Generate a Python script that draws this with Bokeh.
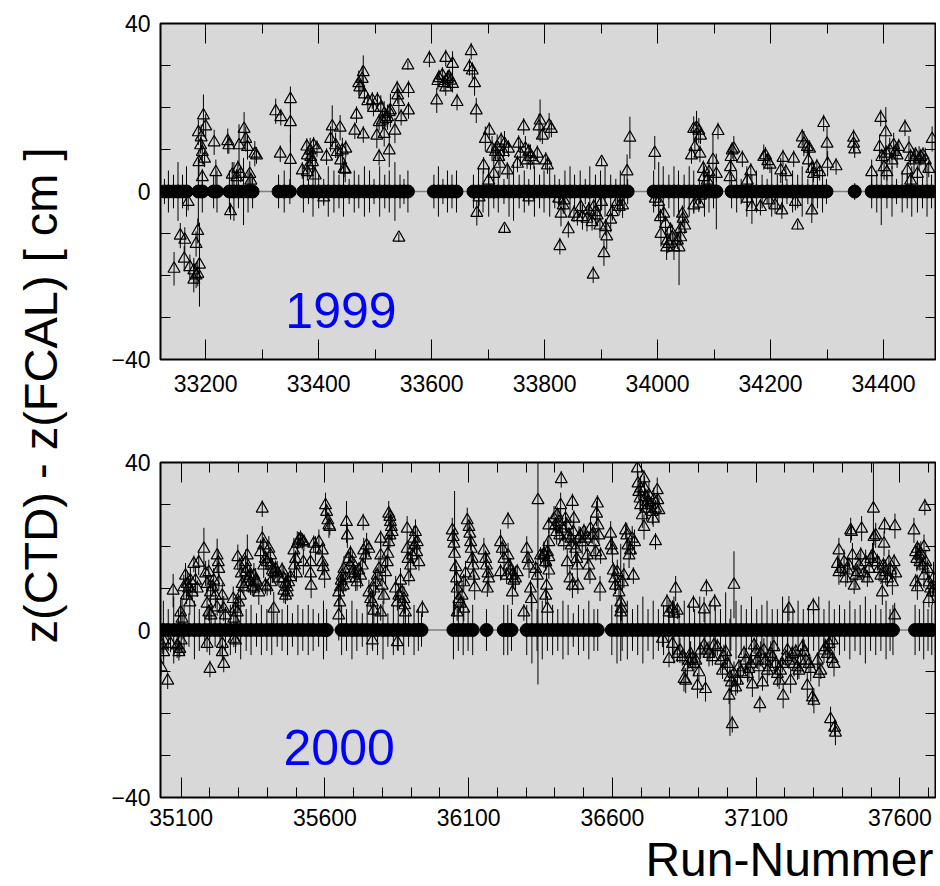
import math
from bokeh.plotting import figure
from bokeh.layouts import row, column
from bokeh.models import Range1d, LinearAxis, SingleIntervalTicker, FixedTicker, Label
from bokeh.embed import file_html
from bokeh.resources import INLINE

# ---------------- data: 1999 ----------------
# runs at z = 0 (filled circles) and their errors
c99_run = [
    33127, 33134, 33143, 33151, 33159, 33166, 33187, 33194, 33214, 33220,
    33242, 33250, 33258, 33267, 33275, 33283, 33329, 33339, 33349,
    33373, 33382, 33390, 33400, 33409, 33417, 33427, 33436, 33444, 33454, 33463,
    33471, 33481, 33490, 33498, 33508, 33517, 33525, 33535, 33544, 33551, 33558,
    33604, 33612, 33620, 33628, 33636, 33644,
    33674, 33683, 33691, 33701, 33710, 33718, 33728, 33737, 33745, 33755,
    33764, 33772, 33782, 33791, 33799, 33809, 33818, 33826, 33836, 33845,
    33853, 33863, 33872, 33880, 33890, 33899, 33907, 33917, 33926, 33934, 33941, 33947,
    33993, 34002, 34010, 34020, 34029, 34037, 34047, 34056, 34064, 34074, 34083, 34091, 34099, 34104,
    34131, 34140, 34148, 34158, 34167, 34175, 34185, 34194, 34202, 34212,
    34221, 34229, 34239, 34248, 34256, 34266, 34275, 34283, 34292, 34299,
    34349,
    34379, 34388, 34396, 34406, 34415, 34423, 34433, 34442, 34450, 34460, 34469, 34477, 34485,
]
c99_err = [
    3, 5, 4, 7, 4, 6, 8, 5, 4, 5,
    5, 7, 4, 8, 5, 4, 4, 5, 3,
    5, 3, 6, 4, 3, 6, 5, 4, 6, 3, 5,
    4, 6, 5, 3, 6, 4, 5, 7, 4, 3, 5,
    4, 6, 3, 5, 4, 5,
    4, 6, 5, 6, 4, 5, 3, 6, 7, 4,
    5, 3, 6, 4, 5, 6, 4, 3, 5, 6,
    4, 5, 3, 6, 4, 5, 6, 4, 3, 5, 4, 3,
    5, 7, 6, 4, 6, 5, 4, 6, 5, 3, 6, 5, 4, 9,
    4, 5, 3, 6, 4, 5, 4, 3, 6, 4,
    5, 3, 5, 4, 6, 3, 5, 4, 5, 3,
    2,
    4, 5, 8, 4, 6, 3, 5, 4, 6, 5, 4, 6, 4,
]
# runs with a deviation (open triangles)
t99_run = [
    33187, 33196, 33200, 33192, 33191, 33194, 33198, 33188, 33194, 33215, 33218,
    33239, 33241, 33247, 33257, 33259, 33268, 33271, 33274, 33278, 33280, 33287, 33290, 33262, 33255,
    33324, 33333, 33332, 33350, 33350, 33350, 33371, 33380,
    33379, 33385, 33386, 33389, 33391, 33397, 33394, 33383, 33380, 33414,
    33421, 33424, 33430, 33433, 33438, 33442, 33448, 33439, 33445, 33447,
    33464, 33467, 33471, 33473, 33479, 33477, 33481, 33487, 33479,
    33495, 33497, 33504, 33510, 33503, 33507, 33513, 33516, 33519, 33522, 33525, 33516, 33527, 33535, 33525, 33507,
    33539, 33540, 33542, 33546, 33559, 33559, 33558,
    33596, 33609, 33611, 33613, 33619, 33622, 33625, 33628, 33631, 33634, 33637, 33645, 33625, 33637,
    33670, 33667, 33672, 33676, 33679, 33692, 33695, 33702,
    33707, 33713, 33716, 33719, 33721, 33723, 33727, 33729, 33734, 33736, 33701, 33710,
    33754, 33757, 33763, 33766, 33769, 33772, 33775, 33781, 33787, 33790, 33792, 33796, 33802, 33808, 33752, 33812, 33805,
    33901, 33951, 33946, 33995, 34064, 34069, 34073, 34076, 34066, 34060, 34075, 34081, 34082, 34088, 34091, 34098, 34104, 34107,
    34128, 34130, 34132, 34129, 34135, 34150, 34165, 34159, 34188, 34191, 34195, 34199,
    34218, 34222, 34227, 34241, 34256, 34259, 34265, 34267, 34269, 34273, 34276, 34282, 34287, 34294, 34300, 34301, 34316,
    34347, 34347, 34349, 34379, 34395, 34404, 34393, 34397, 34401, 34405, 34406, 34411, 34415, 34418, 34421, 34424, 34427, 34438,
    34445, 34448, 34454, 34457, 34460, 34463, 34466, 34470, 34474, 34480, 34486, 34442, 34448,
    33169, 33155, 33163, 33186, 33183, 33162, 33144, 33172, 33189, 33179, 33183, 33179, 33186, 33244, 33409, 33542, 33680, 33684, 33729, 33772,
    33825, 33829, 33827, 33833, 33834, 33842, 33852, 33858, 33864, 33867,
    33875, 33878, 33884, 33887, 33890, 33893, 33898, 33901, 33908, 33910,
    33905, 33886, 33917, 33920, 33929, 33932, 33938,
    34005, 34006, 34011, 34014, 34016, 34017, 34020, 34023, 34026, 34029,
    34035, 34038, 34041, 34044, 34045, 34048, 34041, 33996, 34002, 34064, 34073, 34076,
    34159, 34167, 34182, 34197, 34208, 34220, 34244, 34248, 34273,
]
t99_z = [
    14.1, 18.1, 15.5, 12.9, 11.0, 9.4, 7.8, 7.0, 3.4, 11.7, 4.6,
    12.0, 11.0, 4.0, 5.4, 11.0, 14.9, 12.5, 10.6, 4.2, 2.6, 9.0, 8.6, 4.2, 3.4,
    19.1, 17.7, 9.0, 22.0, 16.5, 7.5, 5.0, 4.6,
    10.7, 9.8, 8.2, 7.0, 11.0, 10.2, 3.8, 6.2, 8.6, 8.3,
    12.5, 15.5, 11.0, 9.4, 15.2, 9.8, 10.2, 7.4, 5.4, 5.2,
    14.5, 18.3, 25.8, 24.8, 28.4, 26.8, 23.1, 21.5, 13.6,
    21.7, 19.9, 21.7, 19.9, 13.3, 16.5, 16.9, 18.5, 17.3, 17.7, 18.9, 13.7, 19.3, 14.5, 9.8, 8.2,
    24.4, 22.9, 21.3, 17.7, 24.4, 19.3, 30.0,
    31.6, 21.7, 26.3, 27.0, 27.6, 25.8, 31.8, 26.8, 27.2, 26.4, 30.4, 21.3, 24.8, 25.6,
    33.4, 29.6, 28.8, 25.8, 19.3, 6.2, 12.5, 14.5,
    10.2, 9.4, 10.6, 8.2, 6.6, 12.1, 9.4, 11.4, 5.0, 10.2, 2.6, 4.2,
    11.4, 9.0, 15.5, 10.2, 7.4, 9.4, 8.2, 7.4, 9.0, 15.5, 16.9, 13.3, 7.4, 15.7, 6.6, 14.9, 6.2,
    7.0, 12.8, 4.8, 9.2, 14.9, 15.2, 14.5, 13.3, 10.6, 8.6, 9.0, 5.4, 3.4, 2.6, 4.6, 7.5, 4.2, 14.4,
    3.4, 8.2, 9.8, 5.8, 10.2, 7.8, 4.8, 2.6, 8.2, 8.6, 7.2, 6.4,
    5.0, 8.0, 4.6, 7.8, 12.9, 11.4, 10.6, 7.4, 10.2, 5.4, 4.2, 5.8, 4.6, 16.3, 11.4, 6.6, 6.0,
    12.8, 11.4, 10.0, 4.6, 17.5, 14.1, 10.6, 8.2, 5.8, 9.0, 4.6, 9.8, 7.4, 11.0, 9.4, 8.6, 10.6, 15.2,
    10.2, 8.2, 7.4, 8.6, 4.2, 7.8, 8.2, 8.6, 7.4, 5.4, 12.5, 5.0, 2.6,
    -2.5, -10.5, -11.5, -9.4, -12.5, -16.0, -18.4, -18.0, -17.4, -18.8, -20.0, -21.0, -19.6, -4.7, -1.4, -11.0, -5.1, -1.4, -8.9, -1.4,
    -1.7, -5.3, -13.0, -3.3, -2.1, -9.0, -5.3, -6.1, -3.7, -6.1,
    -6.5, -4.5, -7.3, -3.7, -4.9, -5.7, -8.1, -2.5, -8.5, -10.7,
    -14.7, -19.8, -6.7, -4.9, -2.5, -3.7, -3.3,
    -6.1, -10.1, -5.3, -7.7, -13.3, -11.7, -12.5, -9.3, -10.9, -13.3,
    -11.7, -13.3, -10.9, -5.3, -6.5, -8.1, -8.9, -1.7, -2.5, -3.3, -2.9, -1.0,
    -1.7, -3.7, -3.7, -2.1, -3.3, -4.5, -2.5, -8.1, -4.5,
]
t99_err = [
    3, 5, 3, 3, 2, 3, 2, 3, 2, 3, 3,
    3, 2, 3, 2, 5, 4, 3, 3, 3, 2, 3, 2, 2, 2,
    3, 2, 2, 3, 5, 6, 2, 2,
    2, 3, 2, 3, 2, 2, 4, 3, 2, 2,
    3, 5, 3, 2, 3, 3, 2, 3, 2, 3,
    2, 2, 3, 2, 4, 3, 2, 2, 2,
    2, 2, 2, 3, 3, 2, 2, 3, 2, 3, 2, 3, 4, 3, 4, 2,
    2, 2, 3, 2, 2, 2, 1,
    2, 3, 2, 2, 2, 2, 2, 2, 2, 2, 3, 2, 2, 2,
    2, 2, 2, 3, 3, 2, 3, 2,
    3, 2, 3, 2, 3, 2, 2, 3, 2, 2, 3, 6,
    2, 3, 2, 3, 2, 2, 3, 2, 2, 3, 5, 2, 2, 3, 2, 2, 2,
    1, 5, 4, 4, 3, 4, 3, 2, 2, 2, 2, 2, 2, 2, 3, 6, 2, 2,
    2, 3, 2, 2, 3, 2, 2, 2, 3, 2, 2, 2,
    3, 2, 2, 2, 2, 3, 2, 3, 2, 2, 2, 2, 2, 2, 4, 3, 2,
    2, 2, 2, 3, 2, 6, 3, 2, 3, 2, 2, 3, 2, 3, 2, 3, 2, 2,
    3, 2, 3, 2, 2, 3, 2, 2, 3, 2, 3, 2, 2,
    2, 3, 3, 3, 3, 3, 4, 3, 10, 3, 3, 3, 3, 2, 2, 1, 3, 2, 1, 2,
    2, 3, 2, 2, 2, 2, 2, 2, 2, 3,
    3, 2, 2, 2, 3, 2, 3, 2, 2, 3,
    3, 2, 3, 2, 2, 2, 3,
    2, 3, 2, 2, 3, 3, 2, 2, 3, 3,
    2, 9, 2, 2, 2, 2, 2, 2, 2, 2, 2, 2,
    2, 4, 2, 2, 2, 2, 2, 1, 3,
]

# ---------------- data: 2000 ----------------
c00_run = [
    35038, 35055, 35074, 35091, 35110, 35127, 35146, 35163, 35182, 35199,
    35218, 35235, 35254, 35271, 35290, 35307, 35326, 35343, 35362, 35379,
    35398, 35415, 35434, 35451, 35470, 35487, 35506, 35523, 35542, 35559,
    35578, 35595, 35606,
    35658, 35675, 35694, 35711, 35730, 35747, 35766, 35783, 35802, 35819,
    35838, 35855, 35874, 35891, 35910, 35925, 35936,
    36047, 36064, 36081, 36098, 36114, 36162, 36222, 36236, 36249,
    36302, 36320, 36338, 36356, 36374, 36392, 36410, 36428, 36446, 36464,
    36482, 36500, 36518, 36536, 36549,
    36598, 36616, 36634, 36652, 36670, 36688, 36706, 36724, 36742, 36760,
    36778, 36796, 36814, 36832, 36850, 36868, 36886, 36904, 36922, 36940,
    36958, 36976, 36994, 37012, 37030, 37048, 37066, 37084, 37102, 37120,
    37138, 37156, 37174, 37192, 37210, 37228, 37246, 37264, 37282, 37300,
    37318, 37336, 37354, 37372, 37390, 37408, 37426, 37444, 37462, 37480,
    37498, 37516, 37534, 37552, 37566, 37576,
    37653, 37668, 37683, 37698, 37711,
]
c00_err = [
    7, 5, 8, 5, 6, 4, 7, 5, 4, 6,
    4, 6, 5, 6, 4, 7, 5, 6, 4, 6,
    5, 6, 4, 5, 6, 4, 6, 5, 6, 5,
    4, 7, 5,
    6, 5, 7, 5, 4, 6, 5, 6, 7, 4,
    6, 5, 6, 4, 6, 5, 4,
    7, 5, 6, 5, 6, 5, 6, 6, 5,
    6, 8, 5, 7, 5, 6, 5, 7, 6, 4,
    6, 5, 7, 5, 5,
    6, 8, 5, 7, 5, 6, 8, 5, 7, 5,
    6, 5, 8, 5, 7, 6, 5, 8, 5, 7,
    6, 5, 9, 5, 7, 6, 5, 8, 5, 6,
    7, 5, 5, 8, 6, 5, 7, 5, 6, 5,
    8, 5, 7, 5, 6, 5, 7, 5, 6, 8,
    5, 6, 5, 7, 5, 6,
    6, 5, 7, 5, 6,
]
t00_run = [
    35072, 35115, 35121, 35126, 35132, 35138, 35144, 35161, 35109, 35118, 35150, 35156, 35130, 35098, 35103,
    35179, 35185, 35190, 35196, 35202, 35208, 35213, 35219, 35225, 35229, 35231, 35231, 35190, 35196, 35204, 35225, 35248, 35254, 35243,
    35281, 35289, 35295, 35300, 35283, 35306, 35297, 35304, 35309, 35312, 35318, 35324,
    35330, 35335, 35341, 35347, 35353, 35359, 35364, 35370, 35324, 35330, 35339, 35353,
    35382, 35382, 35387, 35376, 35393, 35387, 35399, 35405, 35411, 35413,
    35417, 35422, 35428, 35434, 35440, 35411, 35399, 35422, 35393,
    35451, 35457, 35463, 35469, 35474, 35480, 35457, 35463, 35469,
    35492, 35498, 35504, 35509, 35515, 35521, 35527, 35494, 35501, 35525,
    35550, 35550, 35552, 35561, 35567, 35579, 35591, 35591, 35594, 35599, 35602, 35606, 35610, 35614, 35617,
    35648, 35652, 35654, 35657, 35660, 35664, 35666, 35672, 35675, 35678,
    35683, 35687, 35689, 35695, 35699, 35703, 35707, 35712, 35718, 35724,
    35730, 35733, 35735, 35741, 35745, 35753, 35648,
    35753, 35759, 35765, 35770, 35776, 35782, 35788, 35794, 35794, 35799,
    35805, 35811, 35817, 35819, 35822, 35826, 35828, 35831, 35834, 35822, 35826, 35770, 35794,
    35846, 35852, 35857, 35863, 35869, 35875, 35877, 35880, 35886, 35889,
    35892, 35898, 35904, 35909, 35912, 35915, 35919, 35921, 35927, 35886, 35939,
    36043, 36046, 36049, 36051, 36055, 36058, 36060, 36066, 36071, 36077,
    36083, 36089, 36095, 36101, 36104, 36107, 36109, 36113, 36116, 36118, 36121, 36060, 36083,
    36153, 36159, 36162, 36167, 36170, 36165, 36211, 36217, 36223, 36232,
    36237, 36240, 36246, 36252, 36257, 36263, 36269, 36237, 36252, 36211,
    36292, 36302, 36306, 36310, 36315, 36318, 36333, 36339, 36341, 36350, 36362, 36368, 36379, 36379,
    36362, 36368, 36374, 36379, 36371, 36368, 36374, 36379,
    36397, 36402, 36406, 36408, 36414, 36417, 36420, 36422, 36426, 36431,
    36437, 36441, 36443, 36449, 36452, 36455, 36457, 36461, 36464, 36466,
    36472, 36476, 36478, 36480, 36484, 36489, 36495, 36501, 36507, 36513,
    36518, 36522, 36524, 36530, 36536, 36542, 36545, 36548, 36550, 36553,
    36557, 36559, 36461,
    36594, 36596, 36600, 36603, 36608, 36611, 36617, 36623, 36629, 36631,
    36635, 36640, 36646, 36650, 36654, 36658, 36663, 36669, 36673, 36677, 36629,
    36687, 36689, 36692, 36696, 36698, 36704, 36710, 36712, 36716, 36719,
    36710, 36722, 36727, 36733, 36739, 36742, 36744, 36750, 36756, 36758,
    36762, 36750, 36698,
    36790, 36797, 36809, 36814, 36820, 36826, 36882, 36919, 36927, 36956, 37023, 37214, 37299,
    37388, 37383, 37388, 37394, 37406, 37412, 37418, 37423, 37429, 37432,
    37435, 37441, 37447, 37452, 37458, 37464, 37467, 37475, 37481, 37487,
    37493, 37499, 37505, 37508, 37510, 37516, 37522, 37528, 37534, 37539,
    37543, 37545, 37547, 37551, 37557, 37562, 37568, 37574, 37580, 37583,
    37586, 37582,
    37649, 37655, 37659, 37661, 37667, 37670, 37673, 37679, 37684, 37687,
    37690, 37696, 37701, 37707, 37713, 37717, 37655, 37661, 37701, 37684,
    35034, 35039, 35030, 35053, 35086, 35095, 35100, 35092, 35190, 35200,
    35243, 35243, 35248, 35283, 35289, 35765, 35852, 35039, 35063,
    36774, 36797, 36809, 36826, 36835, 36843, 36849, 36855, 36861, 36866,
    36872, 36878, 36884, 36890, 36896, 36901, 36924, 36907, 36919, 36930,
    36936, 36948, 36953, 36965, 36977, 36983, 36988, 36994, 37000, 37006,
    37009, 37014, 37017, 37023, 37029, 37035, 37040, 37046, 37058, 37064,
    37070, 37075, 37081, 37087, 37093, 37099, 37104, 37110, 37113, 37116,
    37122, 37127, 37133, 37139, 37145, 37151, 37157, 37162, 37168, 37174,
    37180, 37185, 37191, 37194, 37203, 37209, 37214, 37220, 37226, 37232,
    37238, 37244, 37249, 37255, 37261, 37267, 37273, 37278, 37284, 37290,
    37296, 37301, 37313, 37319, 37325, 37336, 37342, 37348, 37354, 37359,
    37365, 37371, 37373, 37376, 37365,
]
t00_z = [
    9.4, 13.0, 11.0, 9.9, 11.8, 9.0, 15.8, 16.1, 10.2, 8.2, 11.8, 9.9, 6.6, 4.2, 2.7,
    19.4, 13.5, 11.0, 13.8, 9.0, 10.2, 11.8, 8.2, 17.8, 16.2, 14.6, 11.4, 6.3, 4.2, 3.5, 5.4, 5.1, 3.5, 8.2,
    7.4, 5.1, 4.2, 6.6, 2.7, 8.2, 17.4, 15.4, 13.5, 11.0, 10.2, 16.2,
    14.6, 12.3, 11.4, 10.2, 9.9, 11.8, 11.4, 9.0, 13.8, 17.8, 13.0, 13.0,
    29.0, 21.8, 20.2, 18.6, 17.0, 15.4, 16.2, 19.4, 17.8, 15.4,
    14.2, 13.8, 14.6, 13.5, 12.3, 11.4, 10.2, 5.1, 10.6,
    14.2, 12.3, 11.0, 10.2, 11.4, 12.6, 9.4, 8.2, 9.0,
    19.0, 17.0, 20.6, 21.4, 21.8, 21.2, 20.9, 15.4, 13.5, 16.2,
    16.2, 13.5, 10.6, 20.6, 19.4, 21.0, 19.0, 16.2, 15.0, 13.0, 29.8, 28.2, 26.2, 25.0, 24.6,
    9.0, 6.6, 10.2, 11.8, 13.0, 10.6, 14.6, 12.3, 25.8, 22.6,
    17.0, 15.4, 18.2, 16.2, 14.2, 13.5, 12.3, 11.4, 14.2, 13.0,
    15.4, 25.8, 19.0, 17.8, 20.2, 19.4, 3.5,
    9.0, 7.4, 6.6, 9.9, 11.4, 13.0, 14.6, 17.8, 21.8, 10.6,
    8.2, 13.8, 16.2, 18.2, 27.8, 27.0, 25.8, 24.6, 23.4, 21.0, 22.6, 4.6, 4.2,
    9.9, 6.6, 8.2, 11.8, 9.0, 7.4, 5.9, 4.2, 19.4, 17.0,
    12.6, 15.4, 17.8, 21.8, 20.2, 23.4, 18.6, 21.0, 16.2, 24.2, 5.1,
    23.8, 22.2, 20.6, 18.2, 15.0, 12.3, 9.9, 7.4, 6.3, 8.2,
    11.4, 13.5, 26.2, 24.6, 23.0, 21.0, 19.4, 17.0, 15.4, 13.0, 10.2, 4.2, 5.1,
    19.0, 17.0, 15.4, 13.5, 12.3, 9.9, 21.0, 19.4, 17.0, 13.0,
    17.8, 15.4, 14.2, 13.0, 11.8, 12.3, 13.8, 26.2, 9.0, 13.8,
    4.2, 19.4, 17.0, 15.4, 9.9, 7.4, 14.6, 13.0, 31.0, 17.8, 18.2, 16.2, 21.0, 25.0,
    17.8, 16.2, 18.6, 17.4, 10.6, 8.2, 5.1, 14.2,
    26.6, 25.0, 23.4, 27.4, 25.8, 22.6, 29.8, 36.0, 24.2, 21.0,
    26.6, 25.0, 16.2, 22.6, 12.3, 21.8, 20.2, 30.6, 23.4, 26.6,
    19.4, 17.0, 15.4, 10.6, 21.8, 22.6, 21.0, 23.4, 21.8, 17.8,
    15.4, 13.0, 24.2, 22.6, 21.0, 18.6, 27.8, 30.2, 25.0, 22.6,
    9.9, 17.8, 10.6,
    23.0, 20.2, 19.0, 14.2, 12.3, 10.6, 13.8, 9.0, 6.6, 5.1,
    11.4, 13.0, 23.8, 22.6, 20.2, 17.8, 19.0, 21.8, 13.0, 21.0, 4.2,
    38.6, 35.0, 33.0, 31.4, 29.8, 27.4, 36.2, 33.8, 31.8, 29.0,
    24.6, 30.6, 32.2, 29.8, 28.2, 26.6, 31.0, 29.0, 33.4, 31.0,
    28.6, 21.2, 33.8,
    6.6, 4.2, 5.1, 3.9, 9.9, 4.6, 6.3, 4.9, 10.2, 6.6, 10.8, 5.1, 5.7,
    19.0, 15.8, 13.8, 14.6, 16.2, 12.3, 14.2, 15.4, 23.8, 23.4,
    17.8, 10.6, 13.0, 13.8, 15.4, 17.8, 24.2, 13.5, 16.2, 12.3,
    14.6, 17.0, 17.8, 29.0, 22.2, 22.6, 16.2, 14.6, 13.0, 9.0,
    15.4, 20.6, 25.0, 13.8, 12.3, 16.2, 14.2, 11.4, 16.2, 24.8,
    13.5, 3.5,
    23.8, 18.6, 17.0, 19.4, 17.8, 16.2, 18.2, 15.4, 19.8, 29.4,
    16.2, 14.6, 11.4, 9.9, 9.0, 12.3, 11.4, 10.2, 7.4, 13.0,
    -3.7, -5.3, -8.9, -12.1, -3.7, -4.5, -2.5, -5.3, -3.3, -9.3,
    -3.3, -5.3, -8.1, -2.1, -2.5, -2.5, -2.9, -2.5, -3.3,
    -2.1, -6.9, -3.3, -5.7, -4.9, -6.5, -11.7, -12.1, -8.9, -7.3,
    -5.7, -6.9, -8.1, -7.3, -13.3, -10.1, -14.1, -4.9, -3.7, -4.9,
    -5.7, -6.5, -3.7, -4.1, -7.3, -9.7, -6.5, -5.3, -8.1, -15.7,
    -11.3, -12.5, -22.5, -10.5, -13.7, -12.1, -8.9, -10.1, -5.7, -7.3,
    -10.5, -9.3, -8.1, -13.0, -3.7, -5.3, -7.3, -8.9, -17.7, -5.7,
    -12.5, -4.9, -7.3, -9.7, -8.9, -5.7, -6.5, -4.1, -8.1, -10.5,
    -12.1, -9.7, -8.1, -15.7, -6.5, -4.9, -7.3, -12.1, -5.7, -8.1,
    -5.3, -8.9, -9.7, -7.3, -4.1, -5.3, -7.3, -13.3, -8.1, -9.3,
    -16.1, -16.9, -7.3, -10.5, -9.7, -4.9, -4.1, -5.7, -3.3, -21.3,
    -6.9, -8.1, -23.3, -24.5, -2.5,
]
t00_err = [
    4, 3, 3, 2, 3, 2, 2, 3, 3, 2, 3, 2, 3, 3, 5,
    5, 3, 2, 3, 3, 2, 3, 3, 4, 3, 2, 2, 3, 2, 3, 2, 3, 2, 3,
    3, 2, 3, 2, 3, 2, 3, 2, 3, 2, 2, 3,
    2, 2, 3, 2, 2, 3, 2, 3, 2, 5, 2, 3,
    2, 3, 2, 3, 2, 3, 2, 3, 2, 2,
    3, 2, 2, 3, 2, 3, 2, 4, 2,
    2, 3, 2, 3, 2, 2, 3, 2, 2,
    3, 2, 3, 2, 2, 2, 2, 3, 2, 3,
    3, 2, 3, 2, 3, 3, 2, 3, 2, 3, 3, 2, 2, 3, 2,
    3, 2, 3, 2, 3, 2, 3, 2, 5, 3,
    2, 3, 2, 3, 2, 2, 3, 2, 2, 3,
    2, 2, 3, 2, 3, 2, 6,
    3, 2, 3, 2, 3, 2, 3, 4, 2, 3,
    2, 3, 2, 3, 3, 2, 2, 3, 2, 2, 3, 3, 2,
    3, 2, 3, 3, 2, 3, 2, 3, 2, 3,
    2, 3, 2, 3, 2, 3, 2, 3, 2, 3, 2,
    3, 2, 3, 15, 2, 3, 2, 3, 2, 3,
    2, 3, 3, 2, 3, 2, 3, 2, 3, 2, 3, 2, 3,
    3, 2, 3, 2, 3, 2, 3, 2, 3, 2,
    3, 2, 3, 2, 2, 3, 2, 2, 3, 2,
    2, 3, 2, 3, 2, 3, 2, 3, 44, 2, 3, 2, 3, 2,
    3, 2, 3, 2, 3, 2, 3, 2,
    3, 2, 3, 2, 3, 2, 3, 2, 3, 2,
    3, 2, 3, 2, 3, 2, 3, 2, 3, 2,
    3, 2, 3, 2, 3, 2, 3, 2, 3, 2,
    3, 2, 3, 2, 3, 2, 3, 2, 3, 2,
    3, 2, 3,
    3, 2, 3, 2, 3, 2, 3, 2, 14, 3,
    2, 3, 2, 3, 2, 3, 2, 3, 2, 3, 2,
    2, 3, 2, 3, 2, 3, 2, 3, 2, 3,
    3, 2, 3, 2, 3, 2, 3, 2, 3, 2,
    3, 2, 3,
    2, 3, 2, 3, 3, 2, 2, 3, 2, 2, 8, 3, 2,
    3, 2, 3, 2, 3, 2, 3, 2, 3, 2,
    3, 2, 3, 2, 3, 2, 3, 2, 3, 2,
    3, 2, 3, 13, 2, 3, 2, 3, 2, 3,
    2, 3, 2, 3, 2, 3, 2, 3, 2, 3,
    2, 3,
    3, 2, 3, 2, 3, 2, 3, 2, 3, 2,
    3, 2, 3, 2, 3, 4, 2, 3, 2, 3,
    2, 3, 2, 2, 3, 2, 3, 2, 2, 2,
    3, 2, 2, 2, 3, 2, 2, 3, 2, 2,
    2, 3, 2, 3, 2, 3, 3, 2, 2, 3,
    2, 3, 2, 3, 2, 3, 2, 3, 2, 3,
    2, 3, 2, 3, 2, 3, 2, 3, 2, 14,
    3, 2, 3, 2, 3, 2, 3, 2, 3, 2,
    3, 2, 3, 2, 3, 2, 3, 2, 3, 2,
    3, 2, 3, 2, 3, 2, 3, 2, 3, 2,
    3, 2, 3, 2, 3, 2, 3, 2, 3, 2,
    3, 2, 3, 2, 3, 2, 3, 2, 3, 2,
    3, 2, 3, 2, 3, 2, 3, 2, 3, 2,
    3, 2, 3, 2, 3,
]

# axes / tick labels
x99_range = (33120, 34492)
x00_range = (35028, 37724)
x00_ticks = [35100, 35600, 36100, 36600, 37100, 37600]
y_range = (-40, 40)
year_labels = ["1999", "2000"]
y_title = "z(CTD) - z(FCAL) [ cm ]"
x_title = "Run-Nummer"

FONT = "Liberation Sans"
BG = "#d8d8d8"
FRAME_W = 775
BORDER_L = 72
BORDER_R = 1
TOTAL_H = 885
P1_H = 438
P2_H = 24 + 335 + 40
BOTTOM_H = TOTAL_H - P1_H - P2_H


def style_axis(ax, show_labels, standoff):
    ax.axis_label = None
    ax.axis_line_color = None
    ax.major_tick_in = 20
    ax.major_tick_out = 0
    ax.minor_tick_in = 10
    ax.minor_tick_out = 0
    ax.major_tick_line_color = "black"
    ax.minor_tick_line_color = "black"
    ax.major_tick_line_width = 1
    ax.minor_tick_line_width = 1
    ax.major_label_text_font = FONT
    ax.major_label_text_color = "black"
    if show_labels:
        ax.major_label_text_font_size = "23px"
        ax.major_label_standoff = standoff
    else:
        # mirrored tick marks only: labels are not drawn
        ax.major_label_text_font_size = "1px"
        ax.major_label_text_alpha = 0
        ax.major_label_standoff = 0


def make_panel(xr, xticker_fn, height, top, bottom, x_standoff,
               c_run, c_err, t_run, t_z, t_err):
    p = figure(width=BORDER_L + FRAME_W + BORDER_R, height=height,
               x_range=Range1d(*xr), y_range=Range1d(*y_range),
               output_backend="svg", toolbar_location=None,
               min_border_left=BORDER_L, min_border_right=BORDER_R, min_border_top=top,
               min_border_bottom=bottom, background_fill_color=BG,
               border_fill_color="white")
    p.grid.visible = False
    p.outline_line_color = "black"
    p.outline_line_width = 2

    p.add_layout(LinearAxis(), "above")
    p.add_layout(LinearAxis(), "right")
    for ax in p.xaxis:
        ax.ticker = xticker_fn()
    for ax in p.yaxis:
        ax.ticker = SingleIntervalTicker(interval=40, num_minor_ticks=4)
    style_axis(p.below[0], True, x_standoff)
    style_axis(p.left[0], True, 10)
    style_axis(p.above[0], False, 0)
    style_axis(p.right[0], False, 0)

    # zero line joining the runs without deviation
    p.line(c_run, [0] * len(c_run), line_color="#7f7f7f", line_width=1.5)

    n = min(len(t_run), len(t_z), len(t_err))
    tr, tz, te = list(t_run[:n]), list(t_z[:n]), list(t_err[:n])
    p.segment(x0=tr, y0=[z - e for z, e in zip(tz, te)], x1=tr,
              y1=[z + e for z, e in zip(tz, te)], line_color="black", line_width=1)
    p.scatter(tr, tz, marker="triangle", size=12, fill_color=None,
              line_color="black", line_width=1.2)

    m = min(len(c_run), len(c_err))
    cr, ce = list(c_run[:m]), list(c_err[:m])
    p.segment(x0=cr, y0=[-e for e in ce], x1=cr, y1=ce, line_color="black",
              line_width=1)
    p.scatter(cr, [0] * m, marker="circle", size=13, fill_color="black",
              line_color="black")
    return p


p1 = make_panel(x99_range, lambda: SingleIntervalTicker(interval=200, num_minor_ticks=2),
                P1_H, 23, 79, 15, c99_run, c99_err, t99_run, t99_z, t99_err)
p2 = make_panel(x00_range,
                lambda: FixedTicker(ticks=x00_ticks,
                                    minor_ticks=list(range(35000, 37800, 100))),
                P2_H, 24, 40, 11, c00_run, c00_err, t00_run, t00_z, t00_err)

# year tags (vertically centred on the given value)
p1.add_layout(Label(x=33341, y=-28.3, text=year_labels[0], text_color="#0000ff",
                    text_font=FONT, text_font_size="50px", text_align="left",
                    text_baseline="middle"))
p2.add_layout(Label(x=35456, y=-28.0, text=year_labels[1], text_color="#0000ff",
                    text_font=FONT, text_font_size="50px", text_align="left",
                    text_baseline="middle"))


def blank(width, height, left_border=0, right_border=0):
    f = figure(width=width, height=height, output_backend="svg", toolbar_location=None,
               x_range=Range1d(0, 1), y_range=Range1d(0, 1),
               min_border=0, min_border_left=left_border, min_border_right=right_border,
               x_axis_type=None, y_axis_type=None, outline_line_color=None,
               background_fill_color="white", border_fill_color="white")
    f.grid.visible = False
    return f


left = blank(88, TOTAL_H)
left.add_layout(Label(x=40, y=TOTAL_H - 395, x_units="screen", y_units="screen",
                      text=y_title, angle=math.pi / 2,
                      text_align="center", text_baseline="middle", text_font=FONT,
                      text_font_size="47px", text_color="black"))

bottom = blank(BORDER_L + FRAME_W + BORDER_R, BOTTOM_H, BORDER_L, BORDER_R)
bottom.add_layout(Label(x=FRAME_W - 2, y=TOTAL_H - 859, x_units="screen", y_units="screen",
                        text=x_title, text_align="right", text_baseline="middle",
                        text_font=FONT, text_font_size="48px", text_color="black"))

layout = row(left, column(p1, p2, bottom))
open("out.html", "w").write(file_html(layout, INLINE))
